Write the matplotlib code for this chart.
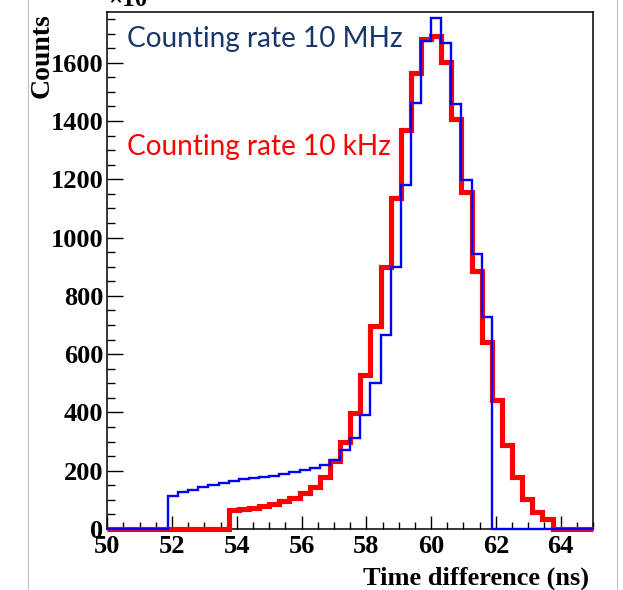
import numpy as np
import matplotlib
matplotlib.use("Agg")
import matplotlib.pyplot as plt
from matplotlib.ticker import MultipleLocator

# ---- data ----
x_min, x_max, n_bins = 50.0, 65.0, 48
edges = np.linspace(x_min, x_max, n_bins + 1)

counts_10kHz = [0, 0, 0, 0, 0, 0, 0, 0, 0, 0, 0, 0,
                64, 67, 71, 78, 86, 95, 108, 122, 145, 178, 234, 300,
                399, 528, 696, 900, 1135, 1369, 1563, 1680, 1693, 1603, 1407, 1155,
                886, 643, 443, 288, 179, 102, 59, 35, 0, 0, 0, 0]
counts_10MHz = [0, 0, 0, 0, 0, 0, 112, 126, 135, 143, 152, 158,
                164, 170, 175, 178, 183, 188, 195, 202, 210, 220, 238, 271,
                313, 391, 502, 665, 898, 1180, 1462, 1675, 1752, 1666, 1460, 1197,
                943, 726, 0, 0, 0, 0, 0, 0, 0, 0, 0, 0]
label_MHz = "Counting rate 10 MHz"
label_kHz = "Counting rate 10 kHz"
x_title = "Time difference (ns)"
y_title = "Counts"

W, H = 623, 590
fig = plt.figure(figsize=(W / 100, H / 100), dpi=100)
ax = fig.add_axes([107.3 / W, 1 - 529 / H, (593 - 107.3) / W, (529 - 12) / H])

serif = ["Liberation Serif", "DejaVu Serif"]

ax.stairs(counts_10kHz, edges, baseline=0, color="#ff0000", lw=3.7,
          joinstyle="miter", clip_on=False, zorder=3)
ax.stairs(counts_10MHz, edges, baseline=0, color="#0000ff", lw=1.7,
          joinstyle="miter", clip_on=False, zorder=4)

ax.set_xlim(x_min, x_max)
ax.set_ylim(0, 1774)
ax.xaxis.set_major_locator(MultipleLocator(2))
ax.xaxis.set_minor_locator(MultipleLocator(0.5))
ax.yaxis.set_major_locator(MultipleLocator(200))
ax.yaxis.set_minor_locator(MultipleLocator(50))
ax.tick_params(axis="x", which="major", direction="in", length=9.6, width=1.0, pad=4)
ax.tick_params(axis="x", which="minor", direction="in", length=4.8, width=1.0)
ax.tick_params(axis="y", which="major", direction="in", length=11.5, width=1.0, pad=3)
ax.tick_params(axis="y", which="minor", direction="in", length=5.5, width=1.0)
for lab in ax.get_xticklabels() + ax.get_yticklabels():
    lab.set_family(serif)
    lab.set_fontweight("bold")
    lab.set_fontsize(19)
for s in ax.spines.values():
    s.set_linewidth(1.1)
    s.set_color("black")

# axis titles (ROOT style)
fig.text(589 / W, 1 - 585 / H, x_title, ha="right", va="baseline",
         family=serif, fontweight="bold", fontsize=19)
fig.text(42 / W, 1 - 13 / H, y_title, ha="center", va="top", rotation=90,
         family=serif, fontweight="bold", fontsize=20)
fig.text(108 / W, 1 - 6 / H, "×10", ha="left", va="baseline",
         family=serif, fontweight="bold", fontsize=18)

# annotations
fig.text(127 / W, 1 - 47 / H, label_MHz, ha="left", va="baseline",
         family=["Lato", "DejaVu Sans"], fontsize=20.2, color="#1a3668")
fig.text(127 / W, 1 - 155 / H, label_kHz, ha="left", va="baseline",
         family=["Lato", "DejaVu Sans"], fontsize=20.2, color="#ff0000")

# slide border lines
for xp in (27.7, 616.7):
    fig.add_artist(plt.Line2D([xp / W, xp / W], [0, 1], color="#c0c0c0", lw=0.8,
                              transform=fig.transFigure))

fig.savefig("out.png", dpi=100)
